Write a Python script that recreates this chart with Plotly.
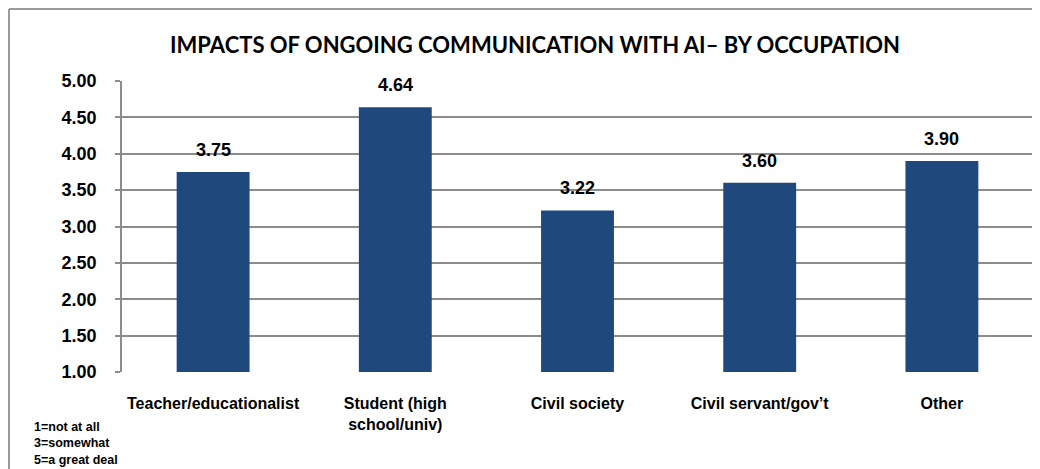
import plotly.graph_objects as go

categories = ["Teacher/educationalist", "Student (high<br>school/univ)", "Civil society",
              "Civil servant/gov\u2019t", "Other"]
values = [3.75, 4.64, 3.22, 3.60, 3.90]
y_ticks = [1.0, 1.5, 2.0, 2.5, 3.0, 3.5, 4.0, 4.5, 5.0]
title_text = "IMPACTS OF ONGOING COMMUNICATION WITH AI\u2013 BY OCCUPATION"
footnote = "1=not at all<br>3=somewhat<br>5=a great deal"

# page body has an 8px margin; compensate so the figure lands at the window origin
OFF = 8
W, H = 1040 - OFF, 469 - OFF
L, R, T, B = 122 - OFF, 7, 81 - OFF, 97
pw, ph = W - L - R, H - T - B

def px(xs):  # screen x -> paper
    return (xs - OFF - L) / pw

def py(ys):  # screen y -> paper
    return (H - B - (ys - OFF)) / ph

ARIAL = "Liberation Sans, Arial, sans-serif"
GRID = "#8C8C8C"

fig = go.Figure()
fig.add_trace(go.Bar(
    x=categories, y=values,
    marker=dict(color="#1F497D", line=dict(width=0)),
    width=0.4,
    hoverinfo="x+y",
))

for c, v in zip(categories, values):
    fig.add_annotation(x=c, y=v, text=f"<b>{v:.2f}</b>", showarrow=False,
                       yanchor="middle", yshift=22,
                       font=dict(family=ARIAL, size=18, color="black"))

fig.update_layout(
    width=W, height=H,
    margin=dict(l=L, r=R, t=T, b=B),
    paper_bgcolor="white", plot_bgcolor="white",
    showlegend=False,
    bargap=0.6,
    title=dict(text=f"<b>{title_text}</b>", x=(535 - OFF) / W, xanchor="center",
               y=1 - (45 - OFF) / H, yanchor="middle",
               font=dict(family="Lato, Carlito, sans-serif", size=22, color="black")),
    xaxis=dict(
        tickfont=dict(family=ARIAL, size=16, color="black", weight="bold"),
        showgrid=False, showline=False, ticks="", ticklabelstandoff=20,
    ),
    yaxis=dict(
        range=[1, 5], tickvals=y_ticks, tickformat=".2f",
        tickfont=dict(family=ARIAL, size=18, color="black", weight="bold"),
        showgrid=True, gridcolor=GRID, gridwidth=1.5,
        showline=True, linecolor=GRID, linewidth=1.5,
        ticks="outside", ticklen=5, tickcolor=GRID, tickwidth=1.5,
        ticklabelstandoff=15, zeroline=False,
    ),
)

# outer chart border (left and top edges visible in the window)
fig.add_shape(type="line", xref="paper", yref="paper",
              x0=px(9), x1=px(9), y0=py(480), y1=py(9),
              line=dict(color="#9A9A9A", width=2))
fig.add_shape(type="line", xref="paper", yref="paper",
              x0=px(9), x1=px(1050), y0=py(9), y1=py(9),
              line=dict(color="#9A9A9A", width=2))

fig.add_annotation(text=f"<b>{footnote}</b>", xref="paper", yref="paper",
                   x=px(32), y=py(418),
                   xanchor="left", yanchor="top", align="left", showarrow=False,
                   font=dict(family=ARIAL, size=12.5, color="black"))

fig.write_html("out.html")
